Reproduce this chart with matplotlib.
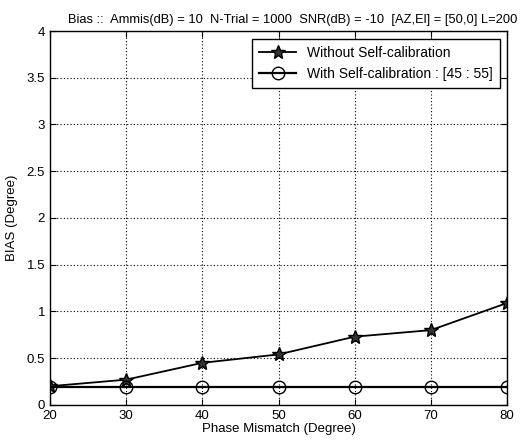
import matplotlib
matplotlib.use("Agg")
import matplotlib.pyplot as plt

plt.rcParams['font.family'] = ['Liberation Sans', 'DejaVu Sans']

phase = [20, 30, 40, 50, 60, 70, 80]
without_cal = [0.20, 0.27, 0.45, 0.54, 0.73, 0.80, 1.09]
with_cal = [0.19, 0.19, 0.19, 0.19, 0.19, 0.19, 0.19]
yticks = [0, 0.5, 1, 1.5, 2, 2.5, 3, 3.5, 4]
ytick_labels = ['0', '0.5', '1', '1.5', '2', '2.5', '3', '3.5', '4']

fig = plt.figure(figsize=(5.26, 4.43), dpi=100)
ax = fig.add_axes([0.095, 0.086, 0.869, 0.844])

ax.plot(phase, without_cal, color='black', marker='*', markersize=10,
        markerfacecolor='#333333', markeredgecolor='black', linewidth=1.3,
        label='Without Self-calibration')
ax.plot(phase, with_cal, color='black', marker='o', markersize=9,
        markerfacecolor='none', markeredgecolor='black', linewidth=1.6,
        label='With Self-calibration : [45 : 55]')

ax.set_xlim(20, 80)
ax.set_ylim(0, 4)
ax.set_xticks(phase)
ax.set_yticks(yticks)
ax.set_yticklabels(ytick_labels)
ax.grid(True, linestyle=(0, (1, 2)), color='black', linewidth=0.8)
ax.tick_params(direction='in', labelsize=9.5, length=4, right=True, top=True)
for s in ax.spines.values():
    s.set_linewidth(1.0)

ax.set_xlabel('Phase Mismatch (Degree)', fontsize=9.5, labelpad=1)
ax.set_ylabel('BIAS (Degree)', fontsize=9.5, labelpad=6)
ax.set_title('Bias ::  Ammis(dB) = 10  N-Trial = 1000  SNR(dB) = -10  [AZ,El] = [50,0] L=200',
             fontsize=9.3, pad=6, x=0.53)

leg = ax.legend(loc='upper right', fontsize=10, fancybox=False, framealpha=1,
                edgecolor='black', borderpad=0.5, handlelength=2.7,
                bbox_to_anchor=(1.0, 0.997))
leg.get_frame().set_linewidth(1.0)

fig.savefig('out.png', dpi=100)
